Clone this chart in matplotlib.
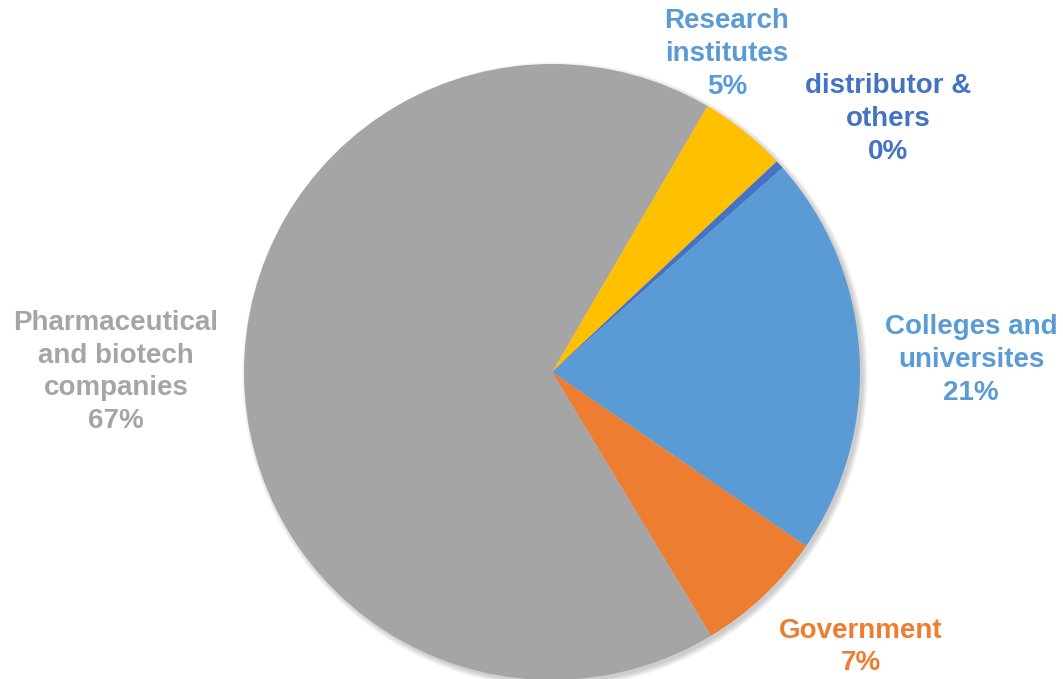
import matplotlib
matplotlib.use("Agg")
import matplotlib.pyplot as plt
from matplotlib.patches import Circle

categories = ["Research\ninstitutes", "distributor &\nothers", "Colleges and\nuniversites",
              "Government", "Pharmaceutical\nand biotech\ncompanies"]
values = [4.6, 0.45, 21.1, 6.8, 67.05]
colors = ["#FFC000", "#4472C4", "#5B9BD5", "#ED7D31", "#A5A5A5"]
label_colors = ["#5B9BD5", "#4472C4", "#5B9BD5", "#ED7D31", "#A5A5A5"]

W, H = 1063, 679
fig = plt.figure(figsize=(W / 100, H / 100), dpi=100)
ax = fig.add_axes([0, 0, 1, 1])

cx, cy, r = 552, H - 372, 308

# soft shadow
for i in range(4):
    ax.add_patch(Circle((cx + 3, cy - 3), r + i * 1.5, color="black", alpha=0.05, lw=0, zorder=0))

ax.pie(values, colors=colors, startangle=90 - 30.3, counterclock=False,
       center=(cx, cy), radius=r, frame=True,
       wedgeprops=dict(linewidth=0, zorder=1))
ax.set_xlim(0, W)
ax.set_ylim(0, H)
ax.axis("off")

label_pos = [(727, 54), (888, 119), (971, 360), (861, 647), (116, 372)]
for cat, v, c, (x, y) in zip(categories, values, label_colors, label_pos):
    ax.text(x, H - y, f"{cat}\n{v:.0f}%", color=c, ha="center", va="center",
            fontsize=20, fontweight="bold", family="Liberation Sans",
            linespacing=1.33, zorder=5)

fig.savefig("out.png", dpi=100)
